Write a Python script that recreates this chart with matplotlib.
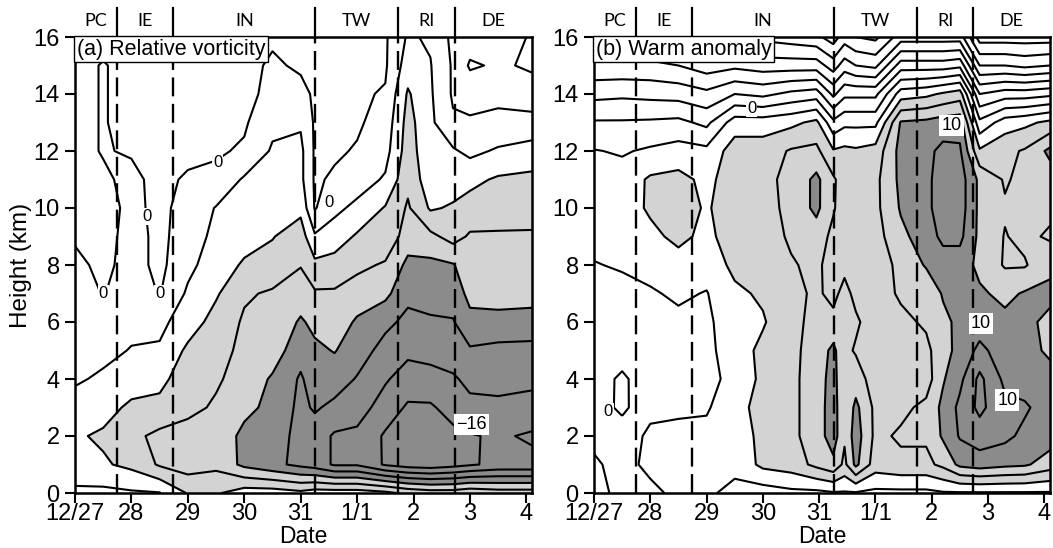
import numpy as np
import matplotlib.pyplot as plt
from matplotlib.transforms import blended_transform_factory

plt.rcParams['font.family'] = ['Liberation Sans', 'DejaVu Sans']

heights = list(range(0, 17))  # km, rows of every profile below

# (a) relative vorticity, one profile (0..16 km) per time (days after 12/27)
days_a = [0, 0.5, 1.0, 1.5, 2.0, 2.5, 3.0, 3.5, 4.0, 4.25, 4.6, 5.0, 5.5, 5.9, 6.3, 6.7, 7.0, 7.5, 8.1]
vort = [
    [3, 7, 7.5, 5.5, 3.5, 3, 2.5, 2, 1, -0.5, -1, -1, -1, -1, -1, -1, -1],
    [3, 7.5, 8.6, 6.5, 4.6, 3, 1.5, -0.2, -1, -1.5, -1.5, -0.5, 0.2, 0.2, 0.2, 0.2, -1],
    [3.5, 9, 11, 8.8, 6, 4.2, 3, 2, 1.5, 1.5, 1, 0.8, -0.3, -1, -1, -1, -1],
    [3.8, 12.5, 13, 9, 7, 4.5, 3, -0.2, -1, -1, -1, -1, -1, -1, -1, -1, -1],
    [8.3, 14, 13.5, 11, 10, 8.8, 6, 4.6, 3, 2, 1.5, 0.5, -1, -1, -1, -1, -1],
    [8.5, 13, 13.5, 12.5, 11.5, 10.5, 9.5, 7.5, 6, 5, 4.2, 1, -0.5, -1, -1, -1, -1],
    [6, 17, 17, 15, 13.5, 13, 12.5, 11.5, 8.5, 6.5, 5, 4.5, 0.5, -0.5, -1, -1, -1],
    [6, 19, 18.5, 17, 16.5, 14, 13, 12.5, 9.5, 7.8, 6.5, 5, 4.5, 3, 1, 0.5, -0.5],
    [7, 21, 21, 21, 20.5, 18.5, 16.5, 14, 11.8, 10, 7, 5, 5, 3.5, 1, -0.5, -1],
    [6, 22, 22, 19.5, 18, 16.8, 15, 12.5, 9, 4.5, -0.3, -0.5, -0.5, -0.5, -0.5, -0.5, -0.5],
    [6, 24.5, 24.5, 21, 18, 15.8, 14, 12.5, 9.5, 6, 3, 0.5, -0.5, -0.5, -0.5, -0.5, -0.5],
    [6, 24.5, 25, 22, 20.3, 18, 16.5, 14, 11, 8.5, 5, 2, 0.3, -0.5, -0.5, -0.5, -0.5],
    [7, 28.5, 28.5, 26, 23.5, 21.5, 19, 15, 12.5, 9, 8.3, 4.5, 2.5, 1.5, 0.3, -0.5, -0.5],
    [9, 30, 30, 28.5, 26, 23, 21, 19, 17, 14, 12.5, 11, 10, 9.5, 8.5, 6, 4.5],
    [10, 30.5, 30.5, 28.5, 25.5, 22.5, 20.5, 18.5, 17, 13, 7.5, 5.5, 5, 4.8, 4.5, 4.2, 3.5],
    [10, 29.5, 29, 26.5, 24.5, 22, 20.3, 18, 16.3, 10.5, 8.5, 6, 4.5, 0.5, -0.5, -0.5, -1],
    [9, 28.5, 28.3, 25, 23, 20.5, 17, 15, 13.5, 12.5, 9.5, 7, 3, 0.5, -1.5, -4.5, -2],
    [10, 27, 27.5, 25, 22.5, 21, 17.5, 14, 13, 12.5, 10, 8.5, 4.5, 1, -1, -3.5, -3],
    [10, 27, 28.5, 25.5, 23, 21, 18, 14, 13, 12.3, 11, 9, 5.5, 1.5, -2.5, -4.5, -4.2],
]
vort_lines = [-4, 0, 4, 8, 12, 16, 20, 24, 28]
vort_fill = [-100, 8, 16, 100]

# (b) warm anomaly
days_b = [0, 0.5, 1.0, 1.5, 2.0, 2.5, 3.0, 3.5, 3.95, 4.25, 4.45, 4.65, 5.0, 5.45, 5.9, 6.2, 6.5, 6.85, 7.3, 7.65, 8.1]
warm = [
    [2.6, 2.3, 1.5, 1.2, 0.8, 1, 1.2, 1.5, 1.9, 2.6, 3, 3, 2.1, 0.2, -2.6, -5.5, -8],
    [1.5, 1.3, 1.2, -0.5, -0.3, 0.8, 1.2, 1.4, 2.2, 2.5, 3, 2.8, 1.8, 0.2, -2.4, -5.5, -8.5],
    [1.5, 2.5, 2.3, 1.6, 1, 1, 1.3, 1.8, 2.6, 3.5, 4.3, 4.3, 2.3, 0.3, -2.6, -5.5, -8.5],
    [2.5, 2.3, 2.3, 1.8, 1.2, 1.5, 1.6, 2.3, 3.2, 4.5, 4.8, 4.6, 2.8, 0.5, -2.8, -6, -9],
    [2.3, 2.5, 2.5, 1.8, 1.5, 1.5, 1.6, 1.9, 2.8, 3.5, 3.8, 3.5, 2.5, -0.5, -3.5, -7, -10],
    [1.5, 2.5, 3, 3.2, 2.5, 3, 3.2, 3.6, 4.5, 5, 5, 5, 5, 3, -2, -6.5, -10],
    [1, 4.5, 4.5, 4.8, 4.5, 4.5, 3.8, 4.3, 5, 5, 5.3, 5.5, 5, 3, -2.5, -7, -10.5],
    [1.5, 5, 5.5, 5.5, 5.5, 5.5, 5.5, 5.5, 5.8, 6.3, 6.5, 6.5, 6.2, 3.5, -1.5, -7, -11],
    [1.5, 6.5, 7, 7, 7, 6.8, 6.5, 6.3, 6.5, 7, 8.5, 8.5, 6.5, 4.5, -1, -7, -11.5],
    [1.8, 7.5, 9, 9, 8.8, 8.5, 6.5, 5.5, 5, 5.5, 6.2, 6.3, 4.2, 0.5, -4.5, -9, -13],
    [1.8, 5.5, 6.3, 6.2, 6.2, 6.5, 7, 6.6, 5.5, 5, 5, 5, 4.5, 1.5, -2.5, -7, -11],
    [1.8, 8.5, 9, 8.5, 7, 5.8, 6.3, 5.5, 5, 5, 5.3, 5.2, 4.3, 1.5, -2.5, -8, -12],
    [1.5, 5, 5.5, 5.5, 5, 4.5, 5, 5, 5, 5.2, 5.5, 5.5, 4.8, 1.5, -2.5, -8.5, -12.5],
    [1.5, 5.5, 6.3, 5.5, 5, 5, 5.5, 6.3, 6.5, 7.5, 8.2, 8.5, 8.7, 8.2, 3, -3, -9],
    [1.5, 5.5, 6.3, 6.5, 5, 5.5, 6.3, 6.5, 8.2, 9, 9.5, 9.5, 9.5, 8.5, 3.5, -3, -9],
    [1.8, 6.5, 8.3, 8.5, 7.8, 7.2, 7.5, 8.2, 9, 10.5, 11, 11, 10.5, 9, 4.3, -3, -9],
    [1.8, 8.5, 10.2, 10.5, 9.5, 8.7, 8.5, 8.5, 9, 10.5, 11, 11, 10.3, 9.2, 5, -2.5, -9],
    [1.8, 9, 11, 12.5, 12.5, 10.5, 9, 8.3, 7.5, 7.5, 7.5, 7.5, 4.3, 0.5, -4, -10, -15],
    [1.8, 8.5, 10.5, 10.5, 9.5, 9, 8.5, 7.5, 5.8, 5.9, 6.2, 5.8, 5.5, 3, -3, -10, -15],
    [1.8, 8.3, 9.5, 10.3, 9, 9, 8.5, 8.2, 5.8, 6.5, 6.8, 6.5, 6.2, 3.5, -3, -10.5, -15],
    [1.8, 7, 9, 9, 9, 7.5, 7.5, 8.5, 7.5, 5.7, 6.5, 7, 8.5, 4.5, -2.5, -10, -15],
]
warm_lines = [-14, -12, -10, -8, -6, -4, -2, 0, 2, 4, 6, 8, 10, 12]
warm_fill = [-100, 4, 8, 100]

date_ticks = [0, 1, 2, 3, 4, 5, 6, 7, 8]
date_labels = ['12/27', '28', '29', '30', '31', '1/1', '2', '3', '4']
phase_edges = [0, 0.745, 1.74, 4.26, 5.73, 6.74, 8.1]
phase_names = ['PC', 'IE', 'IN', 'TW', 'RI', 'DE']

vort_zero_labels = [(0.5, 7.0), (1.5, 7.0), (1.27, 9.7), (2.53, 11.6), (4.5, 10.2)]
vort_box_labels = [(7.03, 2.4, '\u221216')]
warm_zero_labels = [(2.8, 13.5), (0.25, 2.85)]
warm_box_labels = [(6.35, 12.9, '10'), (6.87, 5.95, '10'), (7.34, 3.26, '10')]

shades = ['white', '#d3d3d3', '#8b8b8b']


def draw_panel(ax, days, cols, fill, lines, title, zero_labels, box_labels):
    z = np.array(cols).T
    ax.contourf(days, heights, z, levels=fill, colors=shades)
    ax.contour(days, heights, z, levels=lines, colors='k', linewidths=1.5,
               linestyles='solid')

    for x, y in zero_labels:
        ax.text(x, y, '0', fontsize=12, ha='center', va='center',
                bbox=dict(boxstyle='square,pad=0.05', fc='white', ec='none'))
    for x, y, s in box_labels:
        ax.text(x, y, s, fontsize=13, ha='center', va='center',
                bbox=dict(boxstyle='square,pad=0.12', fc='white', ec='none'))

    # phase boundaries: dashed inside, solid above the frame
    trans = blended_transform_factory(ax.transData, ax.transAxes)
    for b in phase_edges[1:-1]:
        ax.axvline(b, color='k', lw=1.7, ls=(0, (8, 3.2)))
        ax.plot([b, b], [1.0, 1.064], color='k', lw=1.6, transform=trans,
                clip_on=False)
    for lo, hi, name in zip(phase_edges[:-1], phase_edges[1:], phase_names):
        ax.text((lo + hi) / 2, 1.035, name, transform=trans, ha='center',
                va='center', fontsize=13, family=['Lato', 'DejaVu Sans'])

    ax.text(0.004, 0.996, title, transform=ax.transAxes, ha='left', va='top',
            fontsize=15.5,
            bbox=dict(boxstyle='square,pad=0.12', fc='white', ec='black', lw=1))

    ax.set_xlim(0, 8.1)
    ax.set_ylim(0, 16)
    ax.set_xticks(date_ticks)
    ax.set_xticklabels(date_labels)
    ax.set_yticks(range(0, 17, 2))
    ax.tick_params(direction='out', length=7, width=1.5, labelsize=17)
    ax.tick_params(axis='x', pad=0)
    ax.tick_params(axis='y', pad=4)
    for sp in ax.spines.values():
        sp.set_linewidth(1.8)
    ax.set_xlabel('Date', fontsize=16.5, labelpad=0)


fig = plt.figure(figsize=(10.53, 5.48), dpi=100)
ax_a = fig.add_axes([75 / 1053, 55 / 548, 457 / 1053, 456 / 548])
ax_b = fig.add_axes([594 / 1053, 55 / 548, 456 / 1053, 456 / 548])

draw_panel(ax_a, days_a, vort, vort_fill, vort_lines, '(a) Relative vorticity',
           vort_zero_labels, vort_box_labels)
draw_panel(ax_b, days_b, warm, warm_fill, warm_lines, '(b) Warm anomaly',
           warm_zero_labels, warm_box_labels)
ax_a.set_ylabel('Height (km)', fontsize=17.5, labelpad=1)

fig.savefig('out.png', dpi=100)
